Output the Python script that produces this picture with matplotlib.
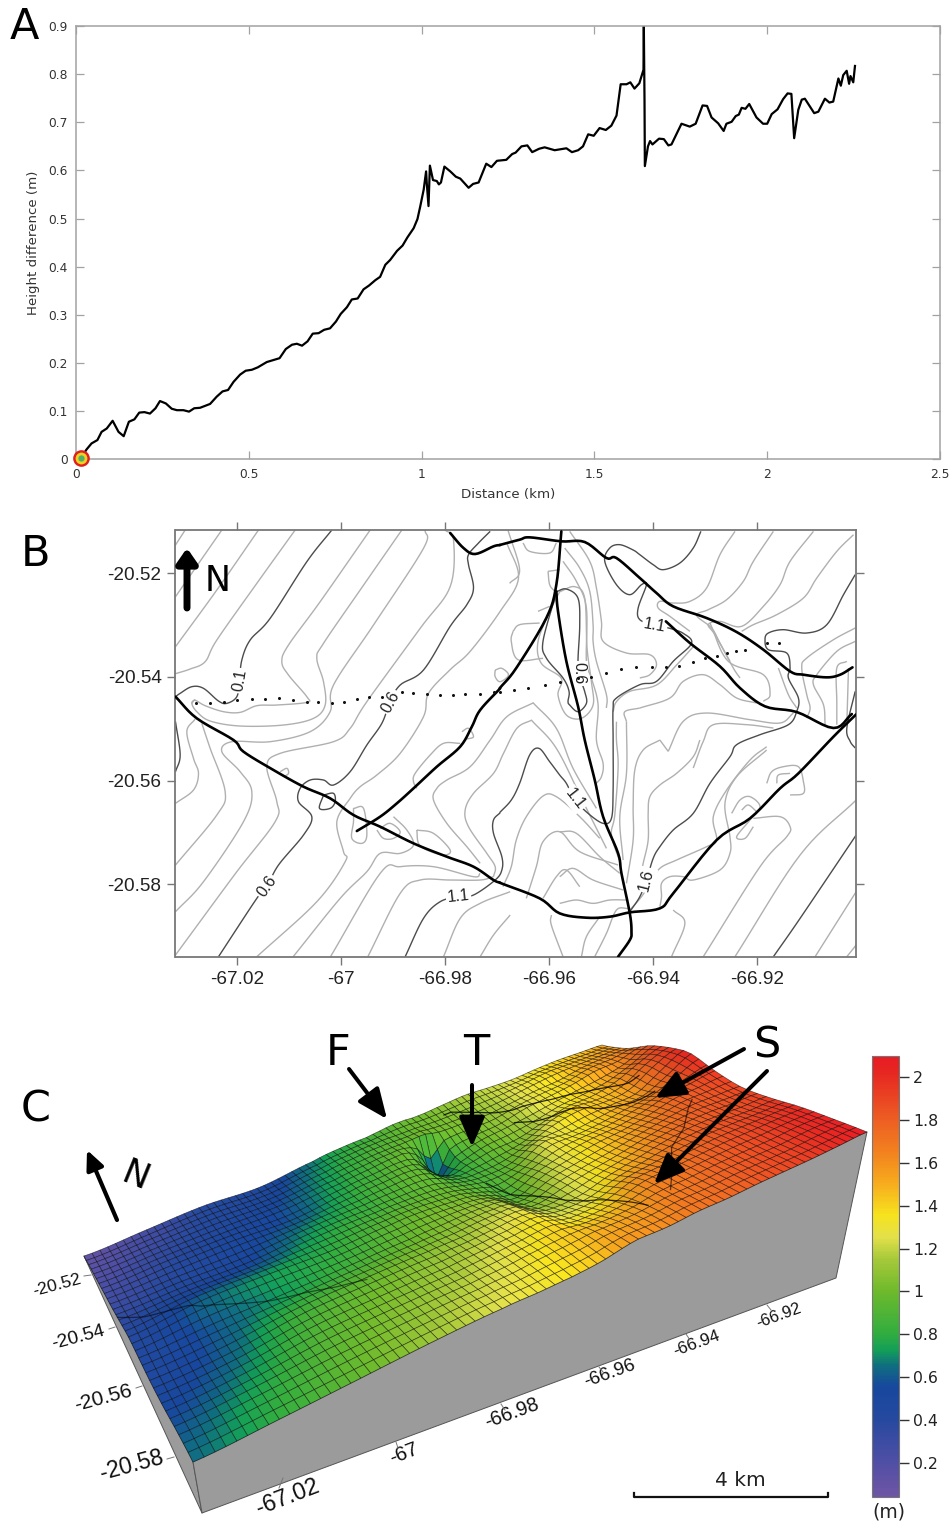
import numpy as np
import matplotlib
matplotlib.use("Agg")
import matplotlib.pyplot as plt
from matplotlib.collections import PolyCollection, LineCollection
from matplotlib.colors import LinearSegmentedColormap, Normalize
from matplotlib.cm import ScalarMappable

W, H = 953, 1527

# ---------- panel A : profile ----------
PROFILE_KM = [0.015,0.03,0.045,0.062,0.074,0.089,0.106,0.123,0.138,0.153,0.169,0.183,0.198,0.214,0.23,0.243,0.26,0.277,0.292,0.311,0.327,0.342,0.359,0.388,0.407,0.424,0.44,0.456,0.475,0.491,0.509,0.526,0.552,0.589,0.607,0.625,0.639,0.654,0.67,0.685,0.702,0.718,0.735,0.752,0.766,0.784,0.798,0.815,0.832,0.848,0.866,0.88,0.895,0.909,0.929,0.945,0.959,0.977,0.988,0.996,1.006,1.013,1.015,1.02,1.024,1.033,1.044,1.05,1.056,1.066,1.083,1.099,1.112,1.136,1.149,1.165,1.187,1.202,1.218,1.245,1.262,1.272,1.289,1.306,1.32,1.34,1.356,1.385,1.419,1.435,1.453,1.467,1.482,1.498,1.515,1.533,1.549,1.564,1.576,1.593,1.604,1.616,1.63,1.642,1.643,1.645,1.646,1.655,1.661,1.668,1.687,1.701,1.714,1.723,1.752,1.776,1.793,1.813,1.826,1.839,1.858,1.874,1.882,1.897,1.909,1.918,1.926,1.937,1.948,1.969,1.988,2.0,2.013,2.03,2.046,2.059,2.07,2.078,2.09,2.1,2.109,2.136,2.148,2.167,2.18,2.191,2.206,2.213,2.22,2.23,2.237,2.241,2.249,2.254]
PROFILE_M = [0.003,0.02,0.033,0.04,0.057,0.064,0.08,0.057,0.048,0.078,0.083,0.097,0.098,0.095,0.106,0.121,0.116,0.105,0.102,0.102,0.099,0.106,0.107,0.115,0.13,0.141,0.144,0.161,0.176,0.184,0.186,0.191,0.202,0.21,0.229,0.238,0.24,0.236,0.245,0.261,0.262,0.269,0.272,0.286,0.302,0.316,0.332,0.334,0.353,0.361,0.372,0.379,0.404,0.414,0.433,0.444,0.461,0.48,0.499,0.525,0.56,0.598,0.573,0.526,0.61,0.58,0.578,0.571,0.575,0.608,0.598,0.587,0.583,0.564,0.572,0.575,0.614,0.607,0.62,0.622,0.634,0.637,0.65,0.652,0.638,0.645,0.648,0.642,0.646,0.638,0.642,0.65,0.675,0.672,0.688,0.684,0.693,0.714,0.779,0.779,0.783,0.77,0.781,0.809,0.9,0.746,0.609,0.65,0.661,0.654,0.666,0.665,0.652,0.654,0.697,0.691,0.697,0.735,0.734,0.71,0.698,0.682,0.697,0.701,0.713,0.716,0.73,0.728,0.738,0.71,0.697,0.697,0.717,0.727,0.748,0.76,0.759,0.667,0.726,0.747,0.749,0.719,0.722,0.749,0.741,0.743,0.791,0.776,0.798,0.807,0.78,0.796,0.783,0.817]

# Two digitising sheets, each calibrated from the tick readings below.
WEST_LON_CAL = ([-67.02, -66.98], [232, 855])
EAST_LON_CAL = ([-66.96, -66.92], [148, 770])
LAT_CAL = ([-20.52, -20.58], [174, 1108])
LON_TICKS = [-67.02, -67, -66.98, -66.96, -66.94, -66.92]
LAT_TICKS = [-20.52, -20.54, -20.56, -20.58]

WEST_GRAY = [
 [(75,45),(46,90)],
 [(185,45),(46,245)],
 [(295,45),(170,225),(46,395)],
 [(405,45),(290,205),(170,375),(135,440),(90,462),(46,476)],
 [(630,45),(480,260),(385,390),(365,440),(385,480),(440,545),(440,562),(350,570),(290,572),(240,592),(190,590),(135,572),(105,556),(95,565)],
 [(725,45),(600,225),(490,385),(470,430),(490,500),(495,570),(460,610),(370,630),(240,633),(150,618),(110,590),(95,565),(105,553)],
 [(105,612),(80,650),(100,730),(115,775),(100,825),(46,865)],
 [(125,625),(150,700),(195,830),(170,900),(46,1050)],
 [(795,45),(790,100),(640,330),(520,510),(510,590),(450,650),(330,680),(215,680),(185,710),(240,770),(275,830),(250,920),(130,1100),(46,1190)],
 [(855,45),(880,75),(870,215),(780,340),(620,560),(570,640),(520,680),(360,715),(320,755),(350,860),(345,920),(230,1070),(90,1260),(46,1320)],
 [(1040,84),(1075,189),(1020,289),(930,409),(870,464),(805,535),(790,605),(720,715),(650,780),(600,815),(570,850),(530,920),(550,1010),(555,1040),(470,1160),(290,1325)],
 [(399,1325),(540,1150),(620,1070),(660,1015),(720,1015),(760,990),(740,945),(700,905)],
 [(580,880),(610,880),(620,960),(605,985),(575,970),(580,920),(580,880)],
 [(660,940),(690,925),(720,950),(700,970),(670,970),(650,945)],
 [(770,945),(820,955),(870,1005),(850,1020),(800,1005),(775,985),(770,945)],
 [(360,770),(380,760),(385,775),(372,785)],
 [(905,650),(925,640),(940,665),(920,672)],
 [(1005,465),(1025,460),(1045,480),(1020,500),(1005,485),(1005,465)],
 [(900,685),(850,685),(810,720),(765,775),(760,800),(770,820)],
 [(1120,563),(1040,605),(990,675),(930,755),(860,795),(830,820),(820,855),(860,925),(920,995),(960,1045)],
 [(1115,615),(1070,640),(1030,715),(1000,775),(940,835),(915,885),(925,935),(980,1015),(1005,1055),(1000,1085)],
 [(511,1325),(660,1075),(720,1055),(820,1055),(940,1085),(960,1075)],
 [(623,1325),(720,1135),(780,1095),(870,1095),(960,1095),(1000,1085)],
 [(850,1325),(900,1210),(960,1165),(1050,1130)],
 [(960,1325),(1000,1260),(1050,1200)],
]
WEST_DARK = [
 [(515,45),(440,140),(330,310),(270,375),(245,435),(238,497),(230,545),(200,565),(175,558),(130,520),(95,515),(60,535),(46,545)],
 [(175,1325),(290,1150),(320,1115),(355,1050),(430,960),(455,905),(415,860),(420,820),(450,795),(490,795),(520,810),(570,770),(620,690),(665,625),(690,560),(720,510),(790,465),(870,334),(920,269),(940,219),(925,149),(925,119),(955,84),(990,49)],
 [(490,840),(478,880),(510,880),(525,860),(520,835),(490,840)],
 [(46,620),(60,720),(46,770)],
 [(735,1325),(790,1210),(840,1160),(895,1145),(940,1140),(1005,1095),(1025,1065),(1025,1025),(1000,955),(1000,915),(1020,893)],
]
EAST_GRAY = [
 [(25,45),(60,165),(30,205)],
 [(70,84),(90,109),(150,114),(170,84)],
 [(145,169),(150,209),(165,229)],
 [(145,169),(180,164)],
 [(40,349),(35,379),(55,434),(130,430)],
 [(40,349),(60,329),(120,324)],
 [(115,289),(150,274)],
 [(180,230),(225,215),(255,250),(262,400),(275,500),(280,570),(245,610),(200,600),(175,540),(185,490),(125,445),(115,380),(150,290),(180,230)],
 [(210,49),(270,139),(290,219),(305,319),(310,379),(380,414),(450,419),(470,449),(450,479),(420,489)],
 [(195,99),(240,159),(270,229),(280,329),(280,379),(290,439),(320,539),(320,579)],
 [(190,139),(230,199),(260,279),(260,439),(275,489),(295,569),(290,675),(310,745),(305,785),(290,805)],
 [(100,563),(170,640),(220,760),(290,880)],
 [(95,615),(170,700),(250,860),(320,1000)],
 [(340,590),(350,560),(390,529),(470,510),(530,450),(580,395)],
 [(350,620),(350,675),(355,755),(345,900),(335,960),(360,1040)],
 [(380,620),(380,775),(360,905),(370,1035)],
 [(480,675),(430,705),(405,765),(400,875),(400,975),(380,1105)],
 [(600,675),(580,725),(530,775),(480,810),(450,845),(445,895),(445,975),(430,1045),(420,1095)],
 [(420,579),(510,549),(550,499),(610,479),(660,509),(710,549),(770,564)],
 [(380,620),(375,590),(420,579)],
 [(505,709),(550,619),(620,594),(750,614),(840,624),(880,594)],
 [(480,675),(505,709)],
 [(580,759),(610,679),(640,629),(740,629),(820,639)],
 [(800,695),(750,735),(680,825),(640,905),(650,975),(620,995),(530,1035),(480,1060),(450,1105),(425,1145),(390,1185)],
 [(800,705),(710,785),(675,865),(690,965),(690,1015),(660,1065),(580,1095),(550,1085),(510,1085),(485,1105),(485,1145),(480,1175)],
 [(695,895),(720,855),(750,845),(780,875),(750,915),(710,965),(735,970),(760,935)],
 [(725,885),(745,870),(770,890)],
 [(800,805),(815,770),(850,755),(895,755),(910,800),(910,835),(870,840)],
 [(830,805),(835,780),(870,775)],
 [(760,910),(840,905),(870,935),(860,965),(780,1055),(610,1325)],
 [(705,49),(660,119),(620,219),(570,259),(520,264),(480,259),(475,279),(510,304),(570,349)],
 [(820,49),(760,139),(730,199),(680,254),(625,284),(590,301),(635,339),(660,384),(700,459),(720,489)],
 [(940,49),(870,139),(840,209),(790,274),(725,334),(660,319),(625,329),(645,359),(690,439)],
 [(1060,59),(1010,109),(950,189),(910,249),(830,299),(760,329),(725,349)],
 [(630,324),(685,439),(790,479),(810,539),(790,559)],
 [(835,459),(865,539),(890,579)],
 [(1065,339),(1000,374),(920,429),(905,459),(920,539),(930,579),(920,609)],
 [(1065,379),(1010,409),(950,479),(940,509),(970,569),(975,629)],
 [(1040,439),(1010,459),(1010,559),(1010,629)],
 [(1045,459),(1040,629)],
 [(705,1325),(900,1020),(1068,855)],
 [(945,1325),(1068,1130)],
 [(1040,1325),(1068,1290)],
 [(10,1115),(35,1055),(50,975),(80,905),(130,843),(170,845),(240,905),(300,970)],
 [(80,1150),(110,1055),(130,980),(180,950),(240,1010),(355,1050)],
 [(130,1150),(170,1085),(200,1065),(240,1115)],
 [(180,950),(230,955),(300,1025),(360,1075)],
 [(180,1085),(220,1060),(280,1095),(370,1125)],
 [(180,1165),(230,1155),(280,1165),(330,1155),(385,1155)],
 [(155,1200),(155,1230),(190,1325)],
 [(245,1325),(260,1265),(300,1205)],
 [(285,1325),(320,1255),(350,1185),(385,1180)],
 [(520,1185),(555,1225),(515,1325)],
]
EAST_DARK = [
 [(603,49),(580,99),(540,144),(490,164),(460,149),(420,119),(400,105),(360,89),(330,99),(315,139),(350,209),(390,239),(425,209),(440,209),(415,279),(420,314),(465,330),(510,340),(550,355),(575,385),(520,439),(470,499),(420,509),(350,549),(340,579),(340,675),(340,825),(335,910),(310,925),(265,895),(225,853),(200,805),(180,780),(150,740),(118,700),(90,720),(60,805),(35,855),(0,893)],
 [(170,230),(200,222),(235,250),(240,330),(235,430),(237,475),(255,530),(260,565),(235,590),(210,570),(205,559),(208,529),(190,489),(140,429),(130,379),(165,250),(170,230)],
 [(390,1190),(420,1145),(440,1095),(460,1030),(480,995),(520,945),(580,895),(630,805),(690,725),(710,689),(780,659),(865,629),(890,589),(895,549),(865,489),(870,459),(860,414),(805,404),(795,374),(805,354),(850,344),(920,354),(980,329),(1030,239),(1065,179)],
 [(1065,529),(1040,639),(1050,679),(1065,699)],
 [(820,1325),(900,1210),(1068,960)],
]
WEST_ROADS = [
 [(46,545),(110,610),(220,675),(250,710),(340,765),(430,815),(510,850),(580,900),(660,935),(760,985),(860,1025),(940,1055),(1000,1095),(1020,1103)],
 [(590,948),(660,905),(710,865),(760,820),(830,755),(900,695),(935,635),(960,585),(1020,520)],
 [(870,54),(910,99),(945,117),(1000,94),(1020,90)],
]
EAST_ROADS = [
 [(0,1103),(120,1150),(180,1195),(260,1208),(330,1205),(390,1192),(480,1180),(520,1135),(650,975),(750,910),(840,820),(895,775),(1000,665),(1068,598)],
 [(0,520),(50,459),(140,309),(170,209),(185,49)],
 [(170,229),(175,289),(200,439),(235,574),(255,675),(285,795),(310,905),(355,1015),(365,1075),(390,1195),(395,1250),(390,1275),(355,1325)],
 [(0,90),(60,74),(90,67),(185,79),(255,81),(320,129),(350,129),(420,189),(470,234),(520,274),(620,309),(710,351),(790,404),(870,469),(910,479),(980,487),(1020,479),(1057,457)],
 [(498,319),(570,384),(660,454),(720,519),(795,574),(890,591),(1000,639),(1055,597)],
]
WEST_DOTS = [(107,563),(150,563),(192,561),(232,556),(275,552),(315,552),(357,550),(398,556),(440,560),(475,560),(515,563),(553,560),(590,552),(628,546),(667,545),(725,532),(760,535),(800,537),(840,540),(878,540),(915,538),(960,537),(1000,532)]
EAST_DOTS = [(0,530),(42,524),(85,518),(135,511),(182,502),(235,490),(275,486),(320,475),(363,463),(408,457),(455,457),(498,457),(538,452),(578,440),(615,430),(652,422),(682,413),(708,407),(735,405),(800,385),(838,385)]
WEST_LABELS = [("0.1",238,497,80),("0.6",690,560,62),("0.6",320,1115,55),("1.1",895,1145,6)]
EAST_LABELS = [("1.1",465,330,-10),("0.6",237,475,-90),("1.1",225,853,-52),("1.6",440,1095,76)]

# ---------- panel C : surface heights (m) ----------
SURFACE_U = [0,.1,.2,.3,.4,.45,.5,.525,.55,.575,.6,.65,.7,.75,.8,.85,.9,.95,1]
SURFACE_V = [0,.08,.13,.18,.23,.28,.33,.4,.5,.6,.7,.8,.9,1]
SURFACE_Z = [
 [.10,.25,.40,.48,.68,.78,.85,.90,.95,.98,1.00,1.08,1.16,1.20,1.25,1.33,1.40,1.45,1.50],
 [.15,.29,.43,.52,.72,.82,.90,.93,.95,.98,1.00,1.05,1.12,1.20,1.30,1.40,1.46,1.52,1.58],
 [.18,.32,.45,.55,.74,.84,.92,.95,.98,1.00,1.00,1.05,1.10,1.20,1.30,1.38,1.50,1.58,1.65],
 [.21,.35,.47,.58,.76,.86,.95,.97,.85,.50,.88,1.00,1.08,1.22,1.32,1.42,1.55,1.62,1.75],
 [.24,.38,.50,.58,.78,.87,.95,.93,.76,.62,.82,.98,1.08,1.18,1.30,1.40,1.50,1.65,1.85],
 [.27,.40,.52,.62,.80,.89,.96,.93,.80,.75,.84,.97,1.05,1.20,1.35,1.42,1.55,1.75,1.92],
 [.30,.42,.52,.68,.82,.90,.96,.94,.86,.83,.86,.95,1.10,1.30,1.42,1.45,1.55,1.80,1.98],
 [.35,.48,.57,.74,.86,.92,.96,.95,.92,.90,.90,1.00,1.25,1.30,1.40,1.50,1.58,1.80,2.03],
 [.42,.62,.72,.80,.94,1.0,1.02,1.03,1.0,.95,.90,1.12,1.28,1.40,1.48,1.60,1.75,1.85,1.95],
 [.45,.60,.72,.85,.98,1.05,1.12,1.14,1.15,1.05,1.03,1.20,1.33,1.45,1.58,1.70,1.80,1.85,1.90],
 [.48,.62,.84,.97,1.08,1.14,1.22,1.26,1.28,1.20,1.18,1.25,1.42,1.55,1.68,1.78,1.84,1.88,1.94],
 [.53,.68,.90,1.03,1.14,1.22,1.30,1.35,1.38,1.33,1.33,1.42,1.60,1.68,1.76,1.84,1.90,1.96,2.01],
 [.60,.76,.94,1.08,1.20,1.27,1.36,1.40,1.44,1.48,1.50,1.56,1.66,1.72,1.80,1.86,1.92,2.0,2.05],
 [.65,.80,.96,1.12,1.25,1.30,1.36,1.40,1.45,1.52,1.58,1.62,1.70,1.75,1.82,1.88,1.94,2.01,2.08],
]
CBAR_TICKS = [0.2,0.4,0.6,0.8,1,1.2,1.4,1.6,1.8,2]
CBAR_LABELS = ["0.2","0.4","0.6","0.8","1","1.2","1.4","1.6","1.8","2"]
LON_C_LABELS = ["-67.02","-67","-66.98","-66.96","-66.94","-66.92"]
LAT_C_LABELS = ["-20.52","-20.54","-20.56","-20.58"]

# ---------- layout helpers ----------
def box(l, t, r, b):
    return [l / W, 1 - b / H, (r - l) / W, (b - t) / H]

fig = plt.figure(figsize=(W / 100, H / 100), dpi=100, facecolor="white")

# ---------- panel A ----------
GREY = "#a2a2a2"
axA = fig.add_axes(box(76, 26, 940, 459.3))
axA.plot(PROFILE_KM, PROFILE_M, color="black", lw=1.6, solid_joinstyle="round", clip_on=True)
axA.set_xlim(0, 2.5); axA.set_ylim(0, 0.9)
axA.set_xticks([0, .5, 1, 1.5, 2, 2.5]); axA.set_xticklabels(["0", "0.5", "1", "1.5", "2", "2.5"])
axA.set_yticks(np.arange(0, 1.0, .1)); axA.set_yticklabels(["0", "0.1", "0.2", "0.3", "0.4", "0.5", "0.6", "0.7", "0.8", "0.9"])
axA.tick_params(axis="both", which="both", direction="in", top=True, right=True, length=5.5, width=.9, color=GREY,
                labelsize=8.8, labelcolor="#333333", pad=6)
for s in axA.spines.values():
    s.set_color(GREY); s.set_linewidth(1.1)
axA.set_xlabel("Distance (km)", fontsize=9.6, color="#333333", labelpad=5.5)
axA.set_ylabel("Height difference (m)", fontsize=9.6, color="#333333", labelpad=6)
for ms, c in [(12, "#e01f1f"), (8.5, "#f0d020"), (4.5, "#4fb06a")]:
    axA.plot([0.015], [0.003], "o", ms=ms, color=c, mec="none", clip_on=False, zorder=5)

# ---------- panel B ----------
def cal(vals, refs):
    return lambda p: vals[0] + (np.asarray(p, float) - refs[0]) * (vals[1] - vals[0]) / (refs[1] - refs[0])
west_lon, east_lon, sheet_lat = cal(*WEST_LON_CAL), cal(*EAST_LON_CAL), cal(*LAT_CAL)
def to_lonlat(trace, west):
    a = np.asarray(trace, float)
    return np.column_stack([(west_lon if west else east_lon)(a[:, 0]), sheet_lat(a[:, 1])])

def smooth(a, n=10):
    if len(a) < 3:
        return a
    p = np.vstack([2 * a[0] - a[1], a, 2 * a[-1] - a[-2]])
    out = []
    for i in range(1, len(p) - 2):
        t = np.linspace(0, 1, n, endpoint=False)[:, None]
        out.append(.5 * (2 * p[i] + (p[i + 1] - p[i - 1]) * t + (2 * p[i - 1] - 5 * p[i] + 4 * p[i + 1] - p[i + 2]) * t ** 2
                         + (3 * p[i] - p[i - 1] - 3 * p[i + 1] + p[i + 2]) * t ** 3))
    out.append(a[-1:])
    return np.vstack(out)

axB = fig.add_axes(box(175.5, 530, 856, 956.7))
for traces, west, col, lw in [(WEST_GRAY, True, "#b0b0b0", 1.0), (EAST_GRAY, False, "#b0b0b0", 1.0),
                              (WEST_DARK, True, "#4c4c4c", 1.0), (EAST_DARK, False, "#4c4c4c", 1.0)]:
    axB.add_collection(LineCollection([smooth(to_lonlat(t, west)) for t in traces], colors=col, linewidths=lw, zorder=2))
for traces, west in [(WEST_ROADS, True), (EAST_ROADS, False)]:
    axB.add_collection(LineCollection([smooth(to_lonlat(t, west), 6) for t in traces], colors="black", linewidths=1.9, zorder=4,
                                      capstyle="round", joinstyle="round"))
for pts, west in [(WEST_DOTS, True), (EAST_DOTS, False)]:
    d = to_lonlat(pts, west)
    axB.plot(d[:, 0], d[:, 1], ls="none", marker="o", ms=2.2, color="#111111", mec="none", zorder=5)
for labels, west in [(WEST_LABELS, True), (EAST_LABELS, False)]:
    for s, x, y, r in labels:
        d = to_lonlat([(x, y)], west)[0]
        axB.text(d[0], d[1], s, rotation=r, rotation_mode="anchor", ha="center", va="center", fontsize=11.5,
                 family="Liberation Sans", color="#222222", zorder=3,
                 bbox=dict(fc="white", ec="none", pad=1.2))
axB.set_xlim(-67.03194, -66.90087); axB.set_ylim(-20.59394, -20.51171)
axB.set_xticks(LON_TICKS); axB.set_xticklabels(["-67.02", "-67", "-66.98", "-66.96", "-66.94", "-66.92"])
axB.set_yticks(LAT_TICKS); axB.set_yticklabels(["-20.52", "-20.54", "-20.56", "-20.58"])
axB.tick_params(axis="both", direction="out", top=True, right=True, length=6, width=1.0, color="#777777",
                labelsize=13.7, labelcolor="#222222", pad=4)
for lab in axB.get_xticklabels() + axB.get_yticklabels():
    lab.set_family("Liberation Sans")
for s in axB.spines.values():
    s.set_color("#777777"); s.set_linewidth(1.3)

# ---------- panel C ----------
cmap = LinearSegmentedColormap.from_list("relief", [
    (0.000, "#6f55a5"), (0.078, "#4f4fa5"), (0.176, "#25499f"), (0.249, "#17479e"), (0.298, "#0f6f7f"),
    (0.332, "#139f58"), (0.371, "#32ad3f"), (0.468, "#6fba2c"), (0.541, "#a8c93a"), (0.590, "#e3e14a"),
    (0.639, "#f6e31e"), (0.712, "#f7ab1d"), (0.785, "#f2801f"), (0.859, "#ed5d23"), (0.956, "#e72a22"), (1.000, "#e81b23")])
norm = Normalize(0.04, 2.10)

ov = fig.add_axes([0, 0, 1, 1], facecolor="none")
ov.set_xlim(0, W); ov.set_ylim(H, 0); ov.axis("off")

CORNERS = dict(nw=(84, 1256), ne=(602, 1045), se=(867, 1132), sw=(193, 1462), base_sw=(202, 1513), base_se=(836, 1278))
def homography(p0, p1, p2, p3):
    dx1, dx2, sx = p1[0] - p2[0], p3[0] - p2[0], p0[0] - p1[0] + p2[0] - p3[0]
    dy1, dy2, sy = p1[1] - p2[1], p3[1] - p2[1], p0[1] - p1[1] + p2[1] - p3[1]
    den = dx1 * dy2 - dx2 * dy1
    g = (sx * dy2 - dx2 * sy) / den
    h = (dx1 * sy - sx * dy1) / den
    return (p1[0] - p0[0] + g * p1[0], p3[0] - p0[0] + h * p3[0], p0[0],
            p1[1] - p0[1] + g * p1[1], p3[1] - p0[1] + h * p3[1], p0[1], g, h)
HG = homography(CORNERS["nw"], CORNERS["ne"], CORNERS["se"], CORNERS["sw"])
def plane_xy(u, v):
    a, b, c, d, e, f, g, h = HG
    D = g * u + h * v + 1
    return (a * u + b * v + c) / D, (d * u + e * v + f) / D

def resample(z, us, vs, n_rows, n_cols):
    """Resample the height table to the mesh the surface is drawn with."""
    def along(arr, nodes, m):
        k = arr.shape[0]
        t = np.interp(np.linspace(0, 1, m), nodes, np.arange(k))
        i = np.clip(np.floor(t).astype(int), 0, k - 2)
        f = (t - i)[:, None]
        p0, p1, p2, p3 = arr[np.maximum(i - 1, 0)], arr[i], arr[i + 1], arr[np.minimum(i + 2, k - 1)]
        return .5 * (2 * p1 + (p2 - p0) * f + (2 * p0 - 5 * p1 + 4 * p2 - p3) * f ** 2 + (3 * p1 - p0 - 3 * p2 + p3) * f ** 3)
    return along(along(z, vs, n_rows).T, us, n_cols).T

NX, NY = 78, 32
Zc = np.array(SURFACE_Z)
Z = resample(Zc, SURFACE_U, SURFACE_V, NY + 1, NX + 1)
U, V = np.meshgrid(np.linspace(0, 1, NX + 1), np.linspace(0, 1, NY + 1))
z_nw, z_ne, z_se, z_sw = Zc[0, 0], Zc[0, -1], Zc[-1, -1], Zc[-1, 0]
Plane = (1 - V) * ((1 - U) * z_nw + U * z_ne) + V * ((1 - U) * z_sw + U * z_se)
RELIEF = 70.0
PX, PY = plane_xy(U, V)
SY = PY - RELIEF * (Z - Plane)

def surf_xy(u, v):
    j = np.clip(u, 0, 1) * NX; i = np.clip(v, 0, 1) * NY
    j0 = np.clip(j.astype(int), 0, NX - 1); i0 = np.clip(i.astype(int), 0, NY - 1)
    fj, fi = j - j0, i - i0
    x = (1 - fi) * ((1 - fj) * PX[i0, j0] + fj * PX[i0, j0 + 1]) + fi * ((1 - fj) * PX[i0 + 1, j0] + fj * PX[i0 + 1, j0 + 1])
    y = (1 - fi) * ((1 - fj) * SY[i0, j0] + fj * SY[i0, j0 + 1]) + fi * ((1 - fj) * SY[i0 + 1, j0] + fj * SY[i0 + 1, j0 + 1])
    return x, y

front = np.vstack([np.column_stack([PX[-1, :], SY[-1, :]]), [CORNERS["base_se"], CORNERS["base_sw"]]])
left = np.vstack([np.column_stack([PX[:, 0], SY[:, 0]]), [CORNERS["base_sw"]]])
ov.add_collection(PolyCollection([left, front], facecolors="#9b9b9b", edgecolors="#555555", linewidths=.7, zorder=1))

polys, cols = [], []
Anom = Z - Plane
for i in range(NY):
    for j in range(NX - 1, -1, -1):
        polys.append([(PX[i, j], SY[i, j]), (PX[i, j + 1], SY[i, j + 1]), (PX[i + 1, j + 1], SY[i + 1, j + 1]), (PX[i + 1, j], SY[i + 1, j])])
        zm = Z[i:i + 2, j:j + 2].mean()
        slope = (Anom[i, j:j + 2].mean() - Anom[i + 1, j:j + 2].mean()) * NY + (Anom[i:i + 2, j].mean() - Anom[i:i + 2, j + 1].mean()) * NX * .5
        shade = np.clip(1 + .025 * slope, .86, 1.05)
        r, g, b, _ = cmap(norm(zm))
        cols.append((min(r * shade, 1), min(g * shade, 1), min(b * shade, 1)))
ov.add_collection(PolyCollection(polys, facecolors=cols, edgecolors=(0, 0, 0, .58), linewidths=.5, zorder=2))

# fold lines where the surface is creased by the linear features
lon0, lon1, lat0, lat1 = -67.03194, -66.90087, -20.51171, -20.59394
for t, west, a0, dy in [(WEST_ROADS[0][:9], True, .5, 0), (EAST_ROADS[0][6:12], False, .6, 0), (EAST_ROADS[2][3:10], False, .75, 0),
                        (EAST_ROADS[3][5:15], False, .8, -4), (EAST_ROADS[4][:6], False, .8, 0)]:
    d = to_lonlat(t, west)
    uu = (d[:, 0] - lon0) / (lon1 - lon0); vv = (d[:, 1] - lat0) / (lat1 - lat0)
    s = np.linspace(0, len(uu) - 1, 200)
    uu, vv = np.interp(s, np.arange(len(uu)), uu), np.interp(s, np.arange(len(vv)), vv)
    x, y = surf_xy(uu, vv)
    ov.plot(x, y + dy, color="black", lw=.9, alpha=a0, zorder=3)

for s, x, y, fs, xa, ya, xb, yb in [(LAT_C_LABELS[0], 57, 1285, 12.6, 84, 1276, 91, 1275), (LAT_C_LABELS[1], 78, 1338, 13.8, 109, 1329, 115, 1327),
                                    (LAT_C_LABELS[2], 103, 1398, 15, 136, 1388, 142, 1386), (LAT_C_LABELS[3], 132, 1465, 16.5, 167, 1459, 174, 1457)]:
    ov.text(x, y, s, rotation=15, ha="center", va="center", fontsize=fs, family="Liberation Sans", color="#111111", zorder=6)
    ov.plot([xa, xb], [ya, yb], color="#777777", lw=.7, zorder=6)
for s, x, y, fs, r, xa, ya, xb, yb in [(LON_C_LABELS[0], 287, 1497, 16.8, 21, 279, 1488, 283, 1478), (LON_C_LABELS[1], 404, 1454, 14.8, 21, 396, 1442, 398, 1448),
                                       (LON_C_LABELS[2], 512, 1413, 14.3, 20, 501, 1404, 505, 1410), (LON_C_LABELS[3], 610, 1374, 13.5, 20, 599, 1367, 603, 1372),
                                       (LON_C_LABELS[4], 697, 1343, 12.3, 20, 686, 1334, 690, 1340), (LON_C_LABELS[5], 779, 1316, 11.8, 20, 767, 1305, 771, 1310)]:
    ov.text(x, y, s, rotation=r, ha="center", va="center", fontsize=fs, family="Liberation Sans", color="#111111", zorder=6)
    ov.plot([xa, xb], [ya, yb], color="#777777", lw=.7, zorder=6)

cax = fig.add_axes(box(872, 1056, 899, 1497))
cb = fig.colorbar(ScalarMappable(norm=norm, cmap=cmap), cax=cax)
cb.set_ticks(CBAR_TICKS); cb.set_ticklabels(CBAR_LABELS)
cb.ax.tick_params(length=7, width=1, color="#333333", labelsize=11.3, labelcolor="#222222", pad=3)
cb.outline.set_edgecolor("#777777"); cb.outline.set_linewidth(.8)

def arrow(x0, y0, x1, y1, lw, ms, hl, hw):
    ov.annotate("", xy=(x1, y1), xytext=(x0, y0), zorder=8,
                arrowprops=dict(arrowstyle=f"-|>,head_length={hl},head_width={hw}", color="black", lw=lw, mutation_scale=ms,
                                shrinkA=0, shrinkB=0))
arrow(349, 1069, 387, 1119, 2.9, 26, .7, .3); arrow(472, 1085, 472, 1147, 2.9, 26, .7, .3)
arrow(744, 1049, 655, 1098, 2.9, 26, .7, .3); arrow(767, 1071, 654, 1184, 2.9, 26, .7, .3)
arrow(117, 1220, 87, 1150, 3.0, 16, .72, .33); arrow(187, 608, 187, 548, 5, 14, .62, .43)
for s, x, y, fs in [("A", 24, 27, 31), ("B", 36, 554, 31), ("C", 36, 1110, 31), ("F", 338, 1053, 31), ("T", 476, 1053, 31), ("S", 767, 1046, 31)]:
    ov.text(x, y, s, ha="center", va="center", fontsize=fs, color="black", zorder=9)
ov.text(218, 581, "N", ha="center", va="center", fontsize=25, color="black", zorder=9)
ov.text(135, 1177, "N", ha="center", va="center", fontsize=25, rotation=-22, color="black", zorder=9)
ov.plot([634, 634, 828, 828], [1493, 1497, 1497, 1493], color="#111111", lw=1.6, zorder=8)
ov.text(740, 1481, "4 km", ha="center", va="center", fontsize=14.5, color="#222222", zorder=8)
ov.text(889, 1512, "(m)", ha="center", va="center", fontsize=13.5, color="#222222", zorder=8)

fig.savefig("out.png", dpi=100, facecolor="white")
